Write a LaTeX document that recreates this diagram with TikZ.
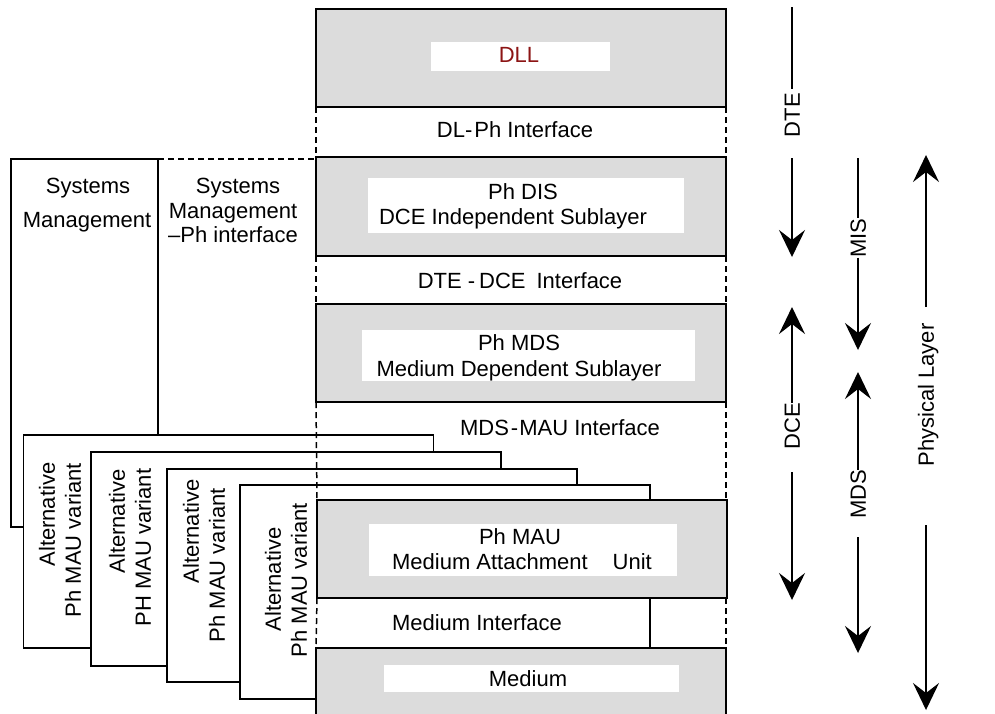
\documentclass[tikz,border=0pt]{standalone}
\usepackage{fontspec}
\setmainfont{Liberation Sans}
\usetikzlibrary{arrows.meta}
\definecolor{boxgray}{RGB}{220,220,220}
\definecolor{dllred}{RGB}{140,20,20}
\begin{document}
\begin{tikzpicture}[x=1pt,y=-1pt,line width=1.5pt,
  every node/.style={font=\fontsize{22}{25}\selectfont,inner sep=0pt,outer sep=0pt},
  txt/.style={text height=15.8pt,text depth=0pt},
  vtxt/.style={txt,rotate=90},
  layerbox/.style={draw,fill=boxgray,minimum width=410pt,minimum height=98pt},
  whitebox/.style={fill=white},
  altbox/.style={draw,fill=white,minimum width=410pt,minimum height=214pt},
  dashline/.style={dash pattern=on 6pt off 4pt},
  arr/.style={-{Stealth[length=27pt,width=26pt,inset=10pt]}}]
\clip (0,0) rectangle (995,713);
\fill[white] (0,0) rectangle (995,713);

% systems management box
\node[draw,fill=white,minimum width=147pt,minimum height=368pt] (sys) at (84.5,343) {};
\node[txt] (sys1) at (88,186) {Systems};
\node[txt] (sys2) at (87,220) {Management};

% alternative MAU boxes
\node[altbox,minimum height=213pt] (alt1) at (228.5,541.5) {};
\node[altbox] (alt2) at (296,559) {};
\node[altbox,minimum height=213pt] (alt3) at (372,575.5) {};
\node[altbox] (alt4) at (445,592) {};
\node[vtxt] (a1a) at (47,514.5) {Alternative};
\node[vtxt] (a1b) at (73,540) {Ph MAU variant};
\node[vtxt] (a2a) at (117,521.5) {Alternative};
\node[vtxt] (a2b) at (143,547.5) {PH MAU variant};
\node[vtxt] (a3a) at (191,531.5) {Alternative};
\node[vtxt] (a3b) at (217,565) {Ph MAU variant};
\node[vtxt] (a4a) at (273,579.5) {Alternative};
\node[vtxt] (a4b) at (299,580) {Ph MAU variant};

% main column
\node[layerbox] (dll) at (521,58) {};
\node[layerbox,minimum height=99pt] (dis) at (521,206.5) {};
\node[layerbox] (mds) at (521,353) {};
\node[layerbox] (mau) at (522,549) {};
\node[layerbox,minimum height=130pt] (med) at (521,713) {};

% dashed interface sides
\draw[dashline] (dll.south west) -- (dis.north west);
\draw[dashline] (dll.south east) -- (dis.north east);
\draw[dashline] (dis.south west) -- (mds.north west);
\draw[dashline] (dis.south east) -- (mds.north east);
\draw[dashline] (mds.south west) -- (mau.north west);
\draw[dashline] (mds.south east) -- (mau.north east -| mds.east);
\draw[dashline] (mau.south west) -- (med.north west);
\draw[dashline] (mau.south east -| med.east) -- (med.north east);
\draw[dashline] (sys.north east) -- (sys.north east -| dis.west);

% inner white labels
\node[whitebox,minimum width=179pt,minimum height=29pt] (dllw) at (520.5,56.5) {};
\node[whitebox,minimum width=316pt,minimum height=55pt] (disw) at (526,205.5) {};
\node[whitebox,minimum width=333pt,minimum height=51pt] (mdsw) at (528.5,355.5) {};
\node[whitebox,minimum width=308pt,minimum height=52pt] (mauw) at (523,550) {};
\node[whitebox,minimum width=295pt,minimum height=27pt] (medw) at (531.5,678.5) {};

\node[txt,text=dllred] (dllt) at (519,55) {DLL};
\node[txt] (dlph) at (515,130) {DL-\hspace{2pt}Ph Interface};
\node[txt] (dis1) at (523,192) {Ph DIS};
\node[txt] (dis2) at (513,217) {DCE Independent Sublayer};
\node[txt] (dtedce) at (520,281) {DTE -\hspace{4pt}DCE\hspace{11pt}Interface};
\node[txt] (mds1) at (519,343) {Ph MDS};
\node[txt] (mds2) at (519,369) {Medium Dependent Sublayer};
\node[txt] (mdsmau) at (560,428) {MDS\hspace{2pt}-\hspace{1pt}MAU Interface};
\node[txt] (mau1) at (520,537) {Ph MAU};
\node[txt] (mau2) at (522,562) {Medium Attachment\hspace{25pt}Unit};
\node[txt] (medint) at (477,623) {Medium Interface};
\node[txt] (medt) at (528,679) {Medium};

\node[txt] (smp1) at (238,186) {Systems};
\node[txt] (smp2) at (233,211) {Management};
\node[txt] (smp3) at (233,235) {–Ph interface};

% right-side scope arrows
\node[vtxt] (dte) at (792,115) {DTE};
\node[vtxt] (dce) at (792,426) {DCE};
\node[vtxt] (mis) at (858,238) {MIS};
\node[vtxt] (mdsl) at (858,494) {MDS};
\node[vtxt] (phy) at (926,395) {Physical Layer};

\coordinate (dteT) at (792,7);
\coordinate (dteA) at (792,89);
\coordinate (dteB) at (792,158);
\coordinate (dteE) at (792,257);
\draw (dteT) -- (dteA);
\draw[arr] (dteB) -- (dteE);

\coordinate (dceE) at (792,307);
\coordinate (dceA) at (792,403);
\coordinate (dceB) at (792,472);
\coordinate (dceF) at (792,600);
\draw[arr] (dceA) -- (dceE);
\draw[arr] (dceB) -- (dceF);

\coordinate (misT) at (858,158);
\coordinate (misB) at (858,350);
\draw (misT) -- (mis.east);
\draw[arr] (mis.west) -- (misB);

\coordinate (mdsT) at (858,372);
\coordinate (mdsB) at (858,653);
\coordinate (mdsC) at (858,537);
\draw[arr] (mdsl.east) -- (mdsT);
\draw[arr] (mdsC) -- (mdsB);

\coordinate (phyT) at (926,155);
\coordinate (phyA) at (926,307);
\coordinate (phyB) at (926,525);
\coordinate (phyE) at (926,710);
\draw[arr] (phyA) -- (phyT);
\draw[arr] (phyB) -- (phyE);
\end{tikzpicture}
\end{document}
